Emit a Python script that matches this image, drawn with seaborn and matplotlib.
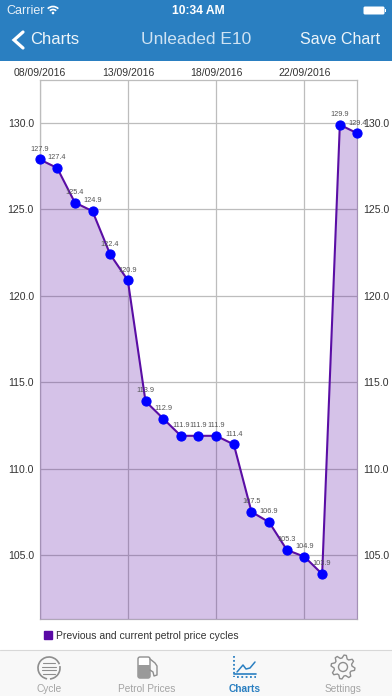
import numpy as np
import pandas as pd
import matplotlib
matplotlib.use('Agg')
import matplotlib.pyplot as plt
import seaborn as sns
from matplotlib.patches import Rectangle, Circle, Arc, FancyBboxPatch, Polygon, Patch

dates = ['08/09/2016', '13/09/2016', '18/09/2016', '22/09/2016']
date_idx = [0, 5, 10, 15]
prices = [127.9, 127.4, 125.4, 124.9, 122.4, 120.9, 113.9, 112.9, 111.9, 111.9,
          111.9, 111.4, 107.5, 106.9, 105.3, 104.9, 103.9, 129.9, 129.4]
y_ticks = [105.0, 110.0, 115.0, 120.0, 125.0, 130.0]
tabs = ['Cycle', 'Petrol Prices', 'Charts', 'Settings']
tab_x = [49, 147, 245, 343]

BLUE = '#2a7fc1'
PURPLE = '#5a0ea5'
GRID = '#bdbdbd'
FONT = 'Liberation Sans'

sns.set_theme(style='white')
plt.rcParams['font.family'] = [FONT, 'DejaVu Sans']

W, H = 392, 696
fig = plt.figure(figsize=(W / 100, H / 100), dpi=100, facecolor='white')

# app chrome, in pixel coordinates
bg = fig.add_axes([0, 0, 1, 1], zorder=0)
bg.set_xlim(0, W)
bg.set_ylim(H, 0)
bg.axis('off')
bg.add_patch(Rectangle((0, 0), W, 60.5, color=BLUE, lw=0))
bg.add_patch(Rectangle((0, 649.5), W, 47, color='#f8f8f8', lw=0))
bg.plot([0, W], [649.5, 649.5], color='#d8d8d8', lw=0.8)

bg.text(6, 10.5, 'Carrier', color='#e8f1f8', fontsize=9, va='center')
bg.add_patch(Arc((53, 14), 15, 15, theta1=225, theta2=315, color='white', lw=1.2))
bg.add_patch(Arc((53, 14), 9, 9, theta1=225, theta2=315, color='white', lw=1.2))
bg.add_patch(Circle((53, 13), 1.3, color='white', lw=0))
bg.text(198, 10.5, '10:34 AM', color='white', fontsize=8.7, ha='center', va='center', weight='bold')
bg.add_patch(FancyBboxPatch((364, 7), 20, 7, boxstyle='round,pad=0.5,rounding_size=1.5', color='white', lw=0))
bg.add_patch(Rectangle((385.5, 9), 1, 3, color='white', lw=0))

bg.plot([23, 14, 23], [32, 40, 48], color='white', lw=2.3, solid_capstyle='round', solid_joinstyle='miter')
bg.text(30, 40, 'Charts', color='#eef5fa', fontsize=12, va='center')
bg.text(196, 40, 'Unleaded E10', color='#cfe3f3', fontsize=12.5, ha='center', va='center')
bg.text(380, 40, 'Save Chart', color='#eef5fa', fontsize=11.5, ha='right', va='center')

# tab bar
for name, x in zip(tabs, tab_x):
    col = BLUE if name == 'Charts' else '#a4a4a4'
    bg.text(x, 689, name, color=col, fontsize=7.3, ha='center', va='center',
            weight='bold' if name == 'Charts' else 'normal')

g = '#8e8e8e'
bg.add_patch(Arc((49, 668), 22, 22, theta1=100, theta2=340, color=g, lw=1.2))
bg.add_patch(Arc((49, 668), 22, 22, theta1=350, theta2=85, color=g, lw=1.2))
for yy, half in [(663, 6), (666.5, 7), (670, 7), (673.5, 6)]:
    bg.plot([49 - half, 49 + half], [yy, yy], color=g, lw=0.8)

bg.add_patch(FancyBboxPatch((138, 657), 12, 21, boxstyle='round,pad=0,rounding_size=2', fc='white', ec=g, lw=1))
bg.add_patch(Rectangle((138, 665), 12, 13, color='#9a9a9a', lw=0))
bg.plot([150, 155, 157, 157, 154, 153, 150], [659, 663, 666, 675, 676, 672, 670], color=g, lw=1)

bl = BLUE
bg.plot([234.5, 234.5], [656, 677], color=bl, lw=1.3, ls=(0, (1, 1.2)))
bg.plot([234.5, 256], [674, 674], color=bl, lw=1.2)
bg.plot([237, 256], [677, 677], color=bl, lw=1.3, ls=(0, (1, 1.4)))
bg.plot([237, 243, 246, 250, 255], [672, 665, 669, 668, 662], color=bl, lw=1.1)

bg.add_patch(Circle((343, 667), 4.5, fc='none', ec=g, lw=1))
angles = np.deg2rad(np.arange(0, 360, 11.25) + 5)
radii = np.array([12, 12, 9, 9] * 8)
bg.add_patch(Polygon(np.c_[343 + radii * np.cos(angles), 667 + radii * np.sin(angles)],
                     closed=True, fc='none', ec=g, lw=1, joinstyle='round'))

# chart
left, right, top, bottom = 39.5, 357.5, 80, 619
ax = fig.add_axes([left / W, 1 - bottom / H, (right - left) / W, (bottom - top) / H], zorder=1)
ax.patch.set_alpha(0)
df = pd.DataFrame({'idx': np.arange(len(prices)), 'price': prices})

ax.fill_between(df['idx'], df['price'], 101.3, color=PURPLE, alpha=0.25, lw=0, zorder=3)
sns.lineplot(data=df, x='idx', y='price', color=PURPLE, lw=1.5, marker='o', markersize=6.6,
             markerfacecolor='#0000ff', markeredgecolor='#0000ff', errorbar=None, ax=ax, zorder=4,
             clip_on=False)
for i, p in zip(df['idx'], df['price']):
    ax.annotate(f'{p:.1f}', (i, p), xytext=(0, 7.4), textcoords='offset points', ha='center',
                va='center', fontsize=5.3, color='#555555', zorder=5, annotation_clip=False)

ax.set_xlim(0, len(prices) - 1)
ax.set_ylim(101.3, 132.49)
ax.set_xlabel('')
ax.set_ylabel('')
ax.set_xticks(date_idx)
ax.set_xticklabels(dates)
ax.xaxis.tick_top()
ax.set_yticks(y_ticks)
ax.set_yticklabels([f'{v:.1f}' for v in y_ticks])
ax.tick_params(axis='x', length=0, pad=1.5, labelsize=7.5, labelcolor='#333333')
ax.tick_params(axis='y', length=0, pad=4, labelsize=7.6, labelcolor='#333333', labelright=True)
ax.grid(True, color=GRID, lw=0.9, zorder=1)
ax.set_axisbelow(True)
for s in ax.spines.values():
    s.set_color(GRID)
    s.set_linewidth(0.9)

leg = fig.legend(handles=[Patch(color='#5a0aa5', label='Previous and current petrol price cycles')],
                 loc='center left', bbox_to_anchor=(44 / W, 1 - 636 / H), frameon=False,
                 fontsize=7.5, handlelength=0.8, handleheight=0.8, handletextpad=0.35,
                 borderpad=0, borderaxespad=0, labelcolor='#333333')

fig.savefig('out.png', dpi=100, facecolor='white')
